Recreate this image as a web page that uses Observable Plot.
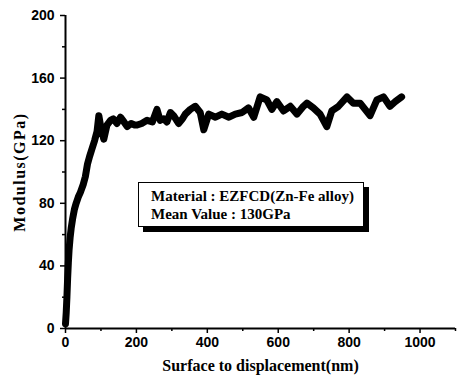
<!DOCTYPE html>
<html>
<head>
<meta charset="utf-8">
<script src="https://cdn.jsdelivr.net/npm/d3@7"></script>
<script src="https://cdn.jsdelivr.net/npm/@observablehq/plot@0.6"></script>
<style>
  html, body { margin: 0; padding: 0; background: #fff; }
  #wrap { position: relative; width: 460px; height: 380px; }
  #wrap svg { font-family: "Liberation Sans", Arial, sans-serif; font-weight: bold; }
  #wrap svg [aria-label="x-axis label"] text { font-family: "Liberation Serif", "Times New Roman", serif; font-weight: bold; font-size: 16px; }
  #wrap svg [aria-label="y-axis label"] text { font-family: "Liberation Serif", "Times New Roman", serif; font-weight: bold; font-size: 16px; letter-spacing: 1.5px; }
  #legend {
    position: absolute; left: 138px; top: 182px; width: 226px; height: 45px;
    border: 1px solid #000; background: #fff; box-shadow: 5px 5px 0 #000;
    font-family: "Liberation Serif", "Times New Roman", serif; font-weight: bold; font-size: 15px;
    line-height: 18px; padding: 4px 0 0 12px; box-sizing: border-box; white-space: nowrap;
  }
</style>
</head>
<body>
<div id="wrap"></div>
<script>
const depth = [0,2,4,6,8,10,13,16,20,25,30,36,42,50,56,62,68,75,82,89,94,100,108,117,127,135,145,155,165,174,185,195,202,215,230,245,258,267,277,286,296,305,319,330,338,352,366,380,390,404,423,441,461,479,498,516,531,549,568,582,596,615,634,653,671,681,699,718,737,751,770,794,812,831,845,859,878,897,915,930,948];
const modulus = [3,10,20,32,42,50,58,64,70,76,80,84,87,92,97,105,110,115,120,126,136,128,121,130,133,134,131,135,132,129,131,130,130,131,133,132,140,133,134,132,138,136,131,134,137,140,142,138,127,137,135,137,135,137,138,141,135,148,146,140,145,139,142,137,142,144,141,137,129,139,142,148,144,144,140,136,146,148,142,145,148];
const xMajor = [0,200,400,600,800,1000];
const xMinor = [100,300,500,700,900,1100];
const yMajor = [0,40,80,120,160,200];
const yMinor = [20,60,100,140,180];
const legendLines = ["Material : EZFCD(Zn-Fe alloy)", "Mean Value : 130GPa"];

const data = depth.map((d, i) => ({d, m: modulus[i]}));

const chart = Plot.plot({
  width: 460, height: 380,
  marginLeft: 65, marginRight: 5, marginTop: 15, marginBottom: 52,
  x: {domain: [0, 1100]},
  y: {domain: [0, 200]},
  style: {fontSize: "14px", color: "#000", background: "#fff"},
  marks: [
    Plot.axisX({ticks: xMajor, tickSize: 5, tickPadding: 4, strokeWidth: 1.5, label: "Surface to displacement(nm)", labelAnchor: "center", labelArrow: "none", labelOffset: 42, tickFormat: d => String(d)}),
    Plot.axisX({ticks: xMinor, tickSize: 3, strokeWidth: 1.5, tickFormat: () => "", label: null}),
    Plot.axisY({ticks: yMajor, tickSize: 5, tickPadding: 6, strokeWidth: 1.5, label: "Modulus(GPa)", labelAnchor: "center", labelOffset: 52, labelArrow: "none", tickFormat: d => String(d)}),
    Plot.axisY({ticks: yMinor, tickSize: 3, strokeWidth: 1.5, tickFormat: () => "", label: null}),
    Plot.ruleY([0], {stroke: "#000", strokeWidth: 2}),
    Plot.ruleX([0], {stroke: "#000", strokeWidth: 2}),
    Plot.line(data, {x: "d", y: "m", stroke: "#000", strokeWidth: 7, strokeLinejoin: "round", strokeLinecap: "round"})
  ]
});
document.getElementById("wrap").appendChild(chart);
const lg = document.createElement("div");
lg.id = "legend";
lg.innerHTML = legendLines.map(t => `<div>${t}</div>`).join("");
document.getElementById("wrap").appendChild(lg);
</script>
</body>
</html>
